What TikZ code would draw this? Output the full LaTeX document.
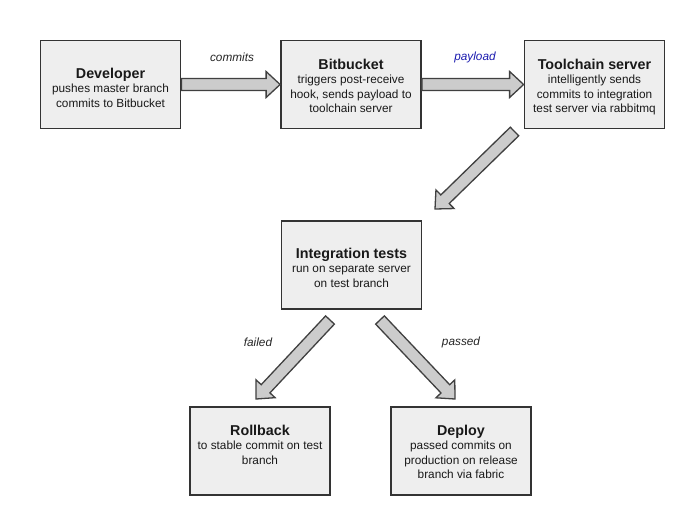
\documentclass[tikz,border=0pt]{standalone}
\usepackage{fontspec}
\setmainfont{Liberation Sans}
\usetikzlibrary{calc}
\definecolor{boxfill}{HTML}{EEEEEE}
\definecolor{boxline}{HTML}{333333}
\definecolor{arrfill}{HTML}{CCCCCC}
\definecolor{arrline}{HTML}{404040}
\definecolor{paylb}{HTML}{1C1CB0}
\newcommand{\titl}[1]{{\fontsize{14.3}{14.5}\selectfont\bfseries #1}}
\newcommand{\blockarrow}[2]{%
  \coordinate (ba-h) at ($(#2)!14pt!(#1)$);
  \draw[barrow] ($(#1)!6pt!90:(#2)$) -- ($(ba-h)!6pt!-90:(#1)$) -- ($(ba-h)!13pt!-90:(#1)$) -- (#2)
    -- ($(ba-h)!13pt!90:(#1)$) -- ($(ba-h)!6pt!90:(#1)$) -- ($(#1)!6pt!-90:(#2)$) -- cycle;}
\begin{document}
\begin{tikzpicture}[x=1pt,y=-1pt,
  box/.style={draw=boxline, fill=boxfill, line width=1.8pt, minimum width=140pt, minimum height=88pt, inner sep=0pt},
  txt/.style={align=center, anchor=north, inner sep=0pt, font=\fontsize{11.8}{14.5}\selectfont, text=black!90},
  lbl/.style={font=\fontsize{11.8}{14}\selectfont\itshape, text=black!85, inner sep=0pt},
  barrow/.style={draw=arrline, fill=arrfill, line width=1.3pt, line join=miter}]
\path[use as bounding box, fill=white] (0,0) rectangle (683,515);

% boxes
\node[box] (dev) at (110.5,84.5) {};
\node[box] (bit) at (351,84.5) {};
\node[box] (tool) at (594.5,84.5) {};
\node[box] (integ) at (351.5,265) {};
\node[box] (roll) at (260,451) {};
\node[box] (depl) at (461,451) {};

% texts
\node[txt] (devt) at (110.5,67.6) {\titl{Developer}\\pushes master branch\\commits to Bitbucket};
\node[txt] (bitt) at (351,58.6) {\titl{Bitbucket}\\triggers post-receive\\hook, sends payload to\\toolchain server};
\node[txt] (toolt) at (594.5,58.6) {\titl{Toolchain server}\\intelligently sends\\commits to integration\\test server via rabbitmq};
\node[txt] (integt) at (351.5,247.6) {\titl{Integration tests}\\run on separate server\\on test branch};
\node[txt] (rollt) at (260,424.6) {\titl{Rollback}\\to stable commit on test\\branch};
\node[txt] (deplt) at (461,424.6) {\titl{Deploy}\\passed commits on\\production on release\\branch via fabric};

% arrows
\coordinate (a3s) at (514.5,131.5);
\coordinate (a3e) at (435,209);
\coordinate (a4s) at (330,320);
\coordinate (a4e) at (256,399);
\coordinate (a5s) at (380,320);
\coordinate (a5e) at (455,399);
\blockarrow{dev.east}{bit.west}
\blockarrow{bit.east}{tool.west}
\blockarrow{a3s}{a3e}
\blockarrow{a4s}{a4e}
\blockarrow{a5s}{a5e}

% labels
\node[lbl] (lcommits) at (232,57) {commits};
\node[lbl, text=paylb] (lpayload) at (475,57) {payload};
\node[lbl] (lfailed) at (258,342) {failed};
\node[lbl] (lpassed) at (461,342) {passed};
\end{tikzpicture}
\end{document}
